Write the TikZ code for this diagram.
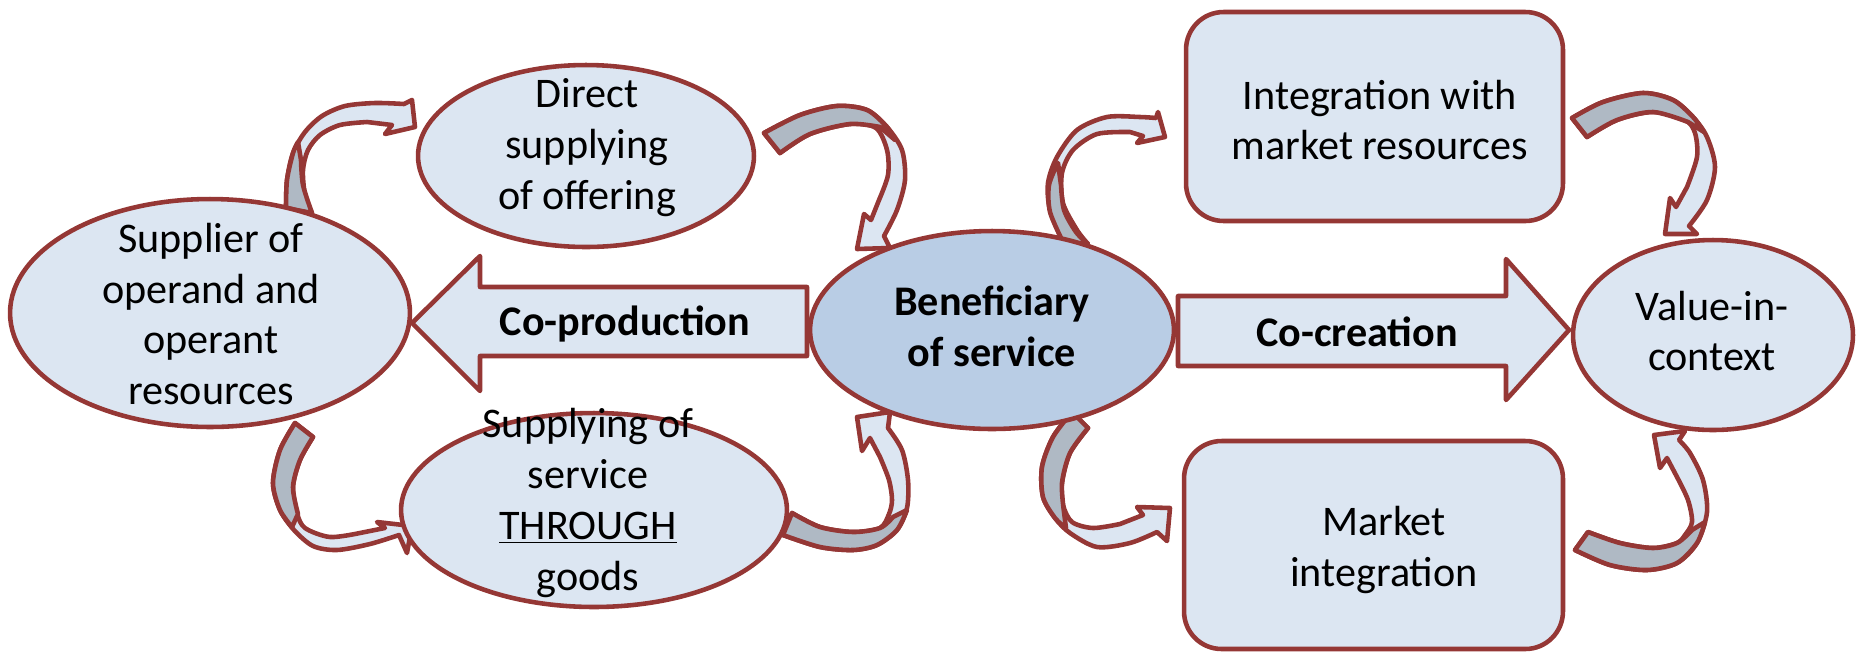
\documentclass[tikz,border=0pt]{standalone}
\usepackage{fontspec}
\setmainfont{Carlito}
\usetikzlibrary{shapes.geometric}
\definecolor{edge}{HTML}{953735}
\definecolor{pale}{HTML}{DCE6F2}
\definecolor{deep}{HTML}{B9CDE5}
\definecolor{backface}{HTML}{AFB9C4}
\tikzset{
  outline/.style={draw=edge, line width=2.6pt, line join=round},
  face/.style={outline, fill=pale},
  back/.style={outline, fill=backface},
  oval/.style={ellipse, face, inner sep=0pt},
  panel/.style={rectangle, rounded corners=0.75cm, face, inner sep=0pt},
  txt/.style={align=center, font=\fontsize{24}{29}\selectfont, text=black, inner sep=0pt},
}
\begin{document}
\begin{tikzpicture}[x=0.02cm, y=-0.02cm]
\useasboundingbox (0,0) rectangle (1860,654);

% ---- curved ribbon arrows (drawn first, shapes sit on top) ----
% supplier -> direct supplying
\draw[face] plot[smooth] coordinates {(286,208)(287,180)(293,153)(305,132)(322,116)(345,106)(375,103)(404,104)}
  -- (412,100) -- (415,127) -- (385,134) -- (392,125)
  -- plot[smooth] coordinates {(367,122)(340,125)(320,135)(308,150)(303,170)(305,195)(312,213)} -- cycle;
\draw[back] plot[smooth] coordinates {(286,208)(287,180)(293,153)(298,142)}
  -- plot[smooth] coordinates {(301,160)(303,185)(312,213)} -- cycle;

% direct supplying -> beneficiary
\draw[face] plot[smooth] coordinates {(764,133)(800,115)(837,106)(867,110)(887,127)(902,150)(905,180)(897,210)(884,236)}
  -- (890,248) -- (857,249) -- (864,214) -- (871,220)
  -- plot[smooth] coordinates {(879,200)(888,175)(887,150)(876,128)(850,124)(810,134)(780,153)} -- cycle;
\draw[back] plot[smooth] coordinates {(764,133)(800,115)(837,106)(867,110)(887,127)(895,140)}
  -- plot[smooth] coordinates {(880,127)(850,124)(810,134)(780,153)} -- cycle;

% supplier -> supplying through goods
\draw[face] plot[smooth] coordinates {(295,423)(280,450)(273,483)(280,510)(294,530)(313,546)(337,550)(370,544)(399,535)}
  -- (407,553) -- (412,526) -- (377,522) -- (385,528)
  -- plot[smooth] coordinates {(360,533)(330,537)(305,528)(297,513)(293,487)(300,460)(313,437)} -- cycle;
\draw[back] plot[smooth] coordinates {(295,423)(280,450)(273,483)(280,510)(292,527)}
  -- plot[smooth] coordinates {(298,514)(293,487)(300,460)(313,437)} -- cycle;

% supplying through goods -> beneficiary
\draw[face] plot[smooth] coordinates {(783,535)(820,547)(853,550)(877,545)(897,530)(907,508)(908,480)(902,450)(888,428)}
  -- (890,412) -- (857,417) -- (862,451) -- (870,438)
  -- plot[smooth] coordinates {(880,457)(889,480)(892,500)(889,514)(880,528)(853,532)(820,527)(792,513)} -- cycle;
\draw[back] plot[smooth] coordinates {(783,535)(820,547)(853,550)(877,545)(897,530)(907,510)}
  -- plot[smooth] coordinates {(893,517)(880,528)(853,532)(820,527)(792,513)} -- cycle;

% beneficiary -> integration with market resources
\draw[face] plot[smooth] coordinates {(1063,242)(1050,210)(1048,183)(1057,157)(1077,130)(1107,117)(1140,117)(1156,118)}
  -- (1158,112) -- (1165,137) -- (1137,143) -- (1143,136)
  -- plot[smooth] coordinates {(1130,132)(1097,134)(1073,150)(1062,173)(1063,203)(1077,230)(1088,244)} -- cycle;
\draw[back] plot[smooth] coordinates {(1063,242)(1050,212)(1049,185)(1058,163)}
  -- plot[smooth] coordinates {(1061,185)(1064,210)(1076,232)(1088,244)} -- cycle;

% integration with market resources -> value-in-context
\draw[face] plot[smooth] coordinates {(1572,118)(1603,102)(1643,93)(1673,100)(1693,117)(1707,137)(1715,167)(1707,200)(1689,226)}
  -- (1697,234) -- (1665,234) -- (1670,198) -- (1676,207)
  -- plot[smooth] coordinates {(1687,187)(1697,157)(1695,133)(1685,120)(1653,112)(1617,120)(1587,137)} -- cycle;
\draw[back] plot[smooth] coordinates {(1572,118)(1603,102)(1643,93)(1673,100)(1693,117)(1704,132)}
  -- plot[smooth] coordinates {(1688,122)(1653,112)(1617,120)(1587,137)} -- cycle;

% beneficiary -> market integration
\draw[face] plot[smooth] coordinates {(1072,412)(1053,437)(1042,467)(1043,497)(1055,518)(1070,533)(1097,547)(1130,543)(1157,532)}
  -- (1167,541) -- (1170,508) -- (1137,507) -- (1143,515)
  -- plot[smooth] coordinates {(1120,524)(1093,528)(1072,522)(1063,505)(1062,483)(1070,453)(1088,428)} -- cycle;
\draw[back] plot[smooth] coordinates {(1072,412)(1053,437)(1042,467)(1043,497)(1055,518)(1066,528)}
  -- plot[smooth] coordinates {(1064,512)(1062,483)(1070,453)(1088,428)} -- cycle;

% market integration -> value-in-context
\draw[face] plot[smooth] coordinates {(1575,550)(1610,565)(1647,570)(1677,563)(1697,543)(1707,512)(1703,480)(1690,453)(1679,440)}
  -- (1685,431) -- (1654,435) -- (1660,468) -- (1667,458)
  -- plot[smooth] coordinates {(1677,477)(1688,500)(1692,522)(1685,535)(1677,543)(1653,548)(1620,543)(1588,532)} -- cycle;
\draw[back] plot[smooth] coordinates {(1575,550)(1610,565)(1647,570)(1677,563)(1697,543)(1705,522)}
  -- plot[smooth] coordinates {(1692,530)(1677,543)(1653,548)(1620,543)(1588,532)} -- cycle;

% ---- block arrows ----
\draw[face] (807,287) -- (480,287) -- (480,256) -- (412,323) -- (480,391) -- (480,356) -- (807,356) -- cycle;
\draw[face] (1178,296) -- (1506,296) -- (1506,259) -- (1569,330) -- (1506,400) -- (1506,366) -- (1178,366) -- cycle;
\node[txt, font=\fontsize{24}{29}\selectfont\bfseries] (coprod) at (625,324) {Co-production};
\node[txt, font=\fontsize{24}{29}\selectfont\bfseries] (cocreate) at (1357,332) {Co-creation};

% ---- actors and activities ----
\node[oval, minimum width=6.72cm, minimum height=3.64cm] (direct) at (586,156) {};
\node[oval, minimum width=8.0cm, minimum height=4.56cm] (supplier) at (210,313) {};
\node[oval, minimum width=7.72cm, minimum height=3.88cm] (through) at (594,510) {};
\node[oval, fill=deep, minimum width=7.28cm, minimum height=3.96cm] (benef) at (992,330) {};
\node[oval, minimum width=5.6cm, minimum height=3.8cm] (value) at (1713,335) {};
\node[panel, minimum width=7.54cm, minimum height=4.18cm] (intmarket) at (1374.5,116.5) {};
\node[panel, minimum width=7.58cm, minimum height=4.16cm] (market) at (1373.5,545) {};

\node[txt] (directtxt) at (587,148) {Direct\\supplying\\of offering};
\node[txt] (suppliertxt) at (211,314) {Supplier of\\operand and\\operant\\resources};
\node[txt] (throughtxt) at (588,503) {Supplying of\\service\\\underline{THROUGH}\\goods};
\node[txt, font=\fontsize{24}{29}\selectfont\bfseries] (beneftxt) at (992,326) {Beneficiary\\of service};
\node[txt] (valuetxt) at (1712,331) {Value-in-\\context};
\node[txt] (intmarkettxt) at (1380,120) {Integration with\\market resources};
\node[txt] (markettxt) at (1384,550) {Market\\integration};
\end{tikzpicture}
\end{document}
